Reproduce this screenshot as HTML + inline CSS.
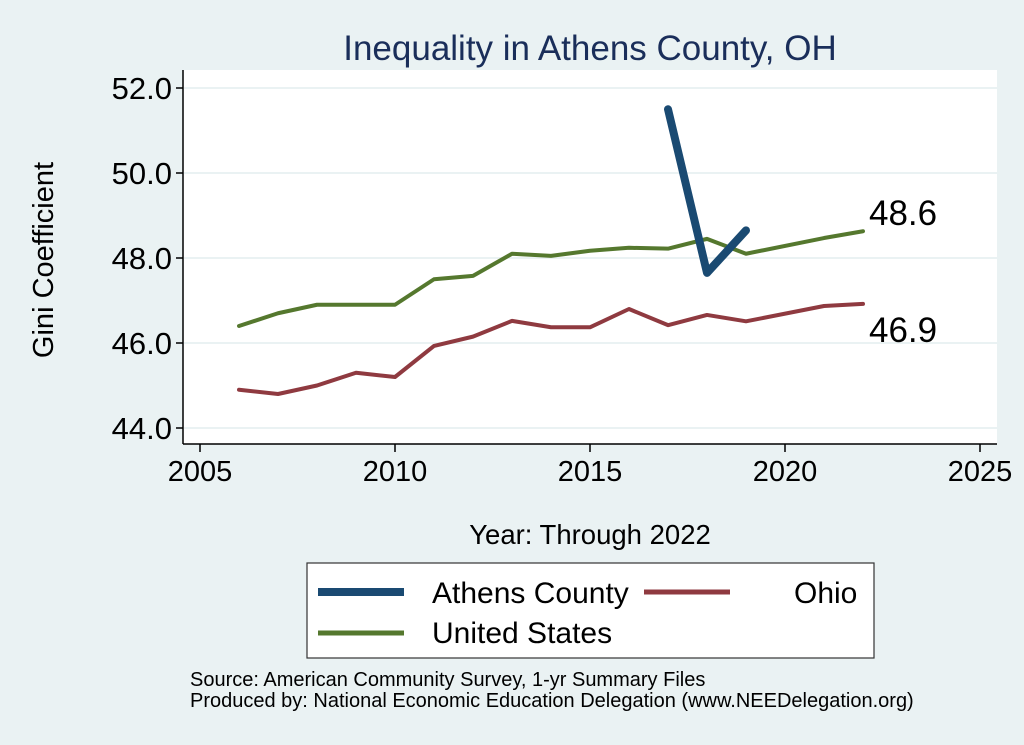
<!DOCTYPE html>
<html><head><meta charset="utf-8"><style>
body{margin:0;background:#eaf2f3;}
svg{display:block;font-family:"Liberation Sans",Arial,sans-serif;}
</style></head><body>
<svg id="chart" width="1024" height="745" viewBox="0 0 1024 745">
<rect x="0" y="0" width="1024" height="745" fill="#eaf2f3"/>
<text x="590" y="60" text-anchor="middle" font-size="35" fill="#1a2e5a">Inequality in Athens County, OH</text>
<rect x="183" y="70" width="814" height="374" fill="#fff"/>
<g id="grid"></g>
<g id="axes"></g>
<g id="series"></g>
<text transform="translate(53,260) rotate(-90)" text-anchor="middle" font-size="29" fill="#000">Gini Coefficient</text>
<text x="590" y="544" text-anchor="middle" font-size="27.5" fill="#000">Year: Through 2022</text>
<g>
<rect x="307" y="563" width="567" height="95" fill="#fff" stroke="#333" stroke-width="1.2"/>
<line x1="318" y1="592" x2="404" y2="592" stroke="#1a4a72" stroke-width="8"/>
<text x="432" y="603" font-size="30">Athens County</text>
<line x1="644" y1="592" x2="730" y2="592" stroke="#8f3a40" stroke-width="5"/>
<text x="794" y="603" font-size="30">Ohio</text>
<line x1="318" y1="633" x2="404" y2="633" stroke="#55782e" stroke-width="5"/>
<text x="432" y="643" font-size="30">United States</text>
</g>
<text x="190" y="686" font-size="20">Source: American Community Survey, 1-yr Summary Files</text>
<text x="190" y="707" font-size="20">Produced by: National Economic Education Delegation (www.NEEDelegation.org)</text>
</svg>
<script>
const yTicks=[44,46,48,50,52];
const yTickLabels=["44.0","46.0","48.0","50.0","52.0"];
const xTicks=[2005,2010,2015,2020,2025];
const usYears=[2006,2007,2008,2009,2010,2011,2012,2013,2014,2015,2016,2017,2018,2019,2021,2022];
const usValues=[46.4,46.7,46.9,46.9,46.9,47.5,47.58,48.1,48.05,48.17,48.24,48.22,48.45,48.1,48.47,48.63];
const ohioYears=[2006,2007,2008,2009,2010,2011,2012,2013,2014,2015,2016,2017,2018,2019,2021,2022];
const ohioValues=[44.9,44.8,45.0,45.3,45.2,45.93,46.15,46.52,46.37,46.37,46.8,46.42,46.66,46.51,46.87,46.92];
const athensYears=[2017,2018,2019];
const athensValues=[51.5,47.65,48.65];
const NS="http://www.w3.org/2000/svg";
const X=v=>200+(v-2005)*39;
const Y=v=>428-(v-44)*42.5;
function mk(tag,attrs,parent){const e=document.createElementNS(NS,tag);for(const k in attrs)e.setAttribute(k,attrs[k]);parent.appendChild(e);return e;}
const grid=document.getElementById('grid'),axes=document.getElementById('axes'),series=document.getElementById('series');
yTicks.forEach((t,i)=>{
 const g=mk('line',{x1:184,x2:997,y1:Y(t),y2:Y(t),stroke:'#eaf2f3','stroke-width':2},grid);
 
 
 const tk=mk('line',{x1:176,x2:183,y1:Y(t),y2:Y(t),stroke:'#000','stroke-width':1.5},axes);
 
 
 const tx=mk('text',{x:172,y:Y(t)+11,'text-anchor':'end','font-size':31},axes);
 tx.textContent=yTickLabels[i];
 
 
});
xTicks.forEach(t=>{
 const tk=mk('line',{x1:X(t),x2:X(t),y1:444,y2:452,stroke:'#000','stroke-width':1.5},axes);
 
 
 const tx=mk('text',{x:X(t),y:481,'text-anchor':'middle','font-size':29},axes);
 tx.textContent=t;
 
 
});
const ya=mk('line',{x1:183,x2:183,y1:70,y2:444,stroke:'#000','stroke-width':1.5},axes);


const xa=mk('line',{x1:183,x2:997,y1:444,y2:444,stroke:'#000','stroke-width':1.5},axes);


function line(xs,vs,color,w,name){
 const p=mk('polyline',{points:xs.map((x,i)=>X(x)+','+Y(vs[i])).join(' '),fill:'none',stroke:color,'stroke-width':w,'stroke-linejoin':'round','stroke-linecap':'round'},series);
 
 
}
line(ohioYears,ohioValues,'#8f3a40',4,'ohio-line');
line(usYears,usValues,'#55782e',4,'us-line');
line(athensYears,athensValues,'#1a4a72',8,'athens-line');
const lu=mk('text',{x:X(usYears[usYears.length-1])+6,y:Y(usValues[usValues.length-1])-6,'font-size':35},series);
lu.textContent=usValues[usValues.length-1].toFixed(1);


const lo=mk('text',{x:X(ohioYears[ohioYears.length-1])+6,y:Y(ohioValues[ohioValues.length-1])+38,'font-size':35},series);
lo.textContent=ohioValues[ohioValues.length-1].toFixed(1);


</script>
</body></html>
